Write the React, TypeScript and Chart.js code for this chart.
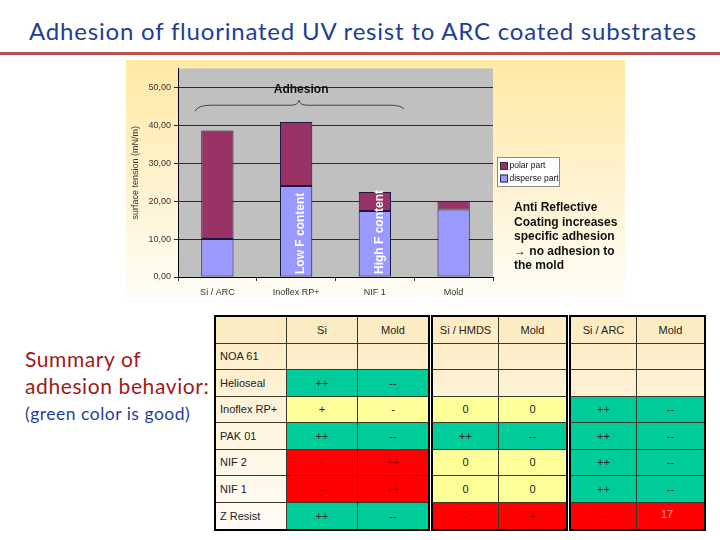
import React, { useEffect, useRef } from 'react';
import { Chart, registerables } from 'chart.js';

Chart.register(...registerables);

// ---- chart data ----
const categories = ['Si / ARC', 'Inoflex RP+', 'NIF 1', 'Mold'];
const dispersePart = [10.0, 24.0, 17.4, 17.8];
const polarPart = [28.6, 16.9, 5.0, 2.3];
const yTickValues = [0, 10, 20, 30, 40, 50];
const barNotes = ['', 'Low F content', 'High F content', ''];
const sideNote = ['Anti Reflective', 'Coating increases', 'specific adhesion', '\u2192 no adhesion to', 'the mold'];

// ---- table data ----
const tableGroups = [['Si', 'Mold'], ['Si / HMDS', 'Mold'], ['Si / ARC', 'Mold']];
const materials = ['NOA 61', 'Helioseal', 'Inoflex RP+', 'PAK 01', 'NIF 2', 'NIF 1', 'Z Resist'];
const ratings = [
  ['', '', '', '', '', ''],
  ['++', '--', '', '', '', ''],
  ['+', '-', '0', '0', '++', '--'],
  ['++', '--', '++', '--', '++', '--'],
  ['--', '++', '0', '0', '++', '--'],
  ['--', '++', '0', '0', '++', '--'],
  ['++', '--', '-', '+', '--', ''],
];
const ratingColors = [
  ['', '', '', '', '', ''],
  ['g', 'g', '', '', '', ''],
  ['y', 'y', 'y', 'y', 'g', 'g'],
  ['g', 'g', 'g', 'g', 'g', 'g'],
  ['r', 'r', 'y', 'y', 'g', 'g'],
  ['r', 'r', 'y', 'y', 'g', 'g'],
  ['g', 'g', 'r', 'r', 'r', 'r'],
];

const FONT = "'Liberation Sans', Arial, sans-serif";
const SLIDE_FONT = "Lato, 'Open Sans', sans-serif";
const fillOf: Record<string, string> = { g: '#00CC99', y: '#FFFF99', r: '#FF0000', '': 'transparent' };

function ChartPanel() {
  const ref = useRef<HTMLCanvasElement>(null);
  useEffect(() => {
    const canvas = ref.current!;
    const deco = {
      id: 'deco',
      beforeDraw(chart: any) {
        const { ctx, width, height, chartArea: a } = chart;
        ctx.save();
        const g = ctx.createLinearGradient(0, 0, 0, height);
        g.addColorStop(0, '#FFE9A3');
        g.addColorStop(0.55, '#FFF3D2');
        g.addColorStop(1, '#FFFDF7');
        ctx.fillStyle = g;
        ctx.fillRect(0, 0, width, height);
        ctx.fillStyle = '#C0C0C0';
        ctx.fillRect(a.left, a.top, a.right - a.left, a.bottom - a.top);
        ctx.restore();
      },
      afterDatasetsDraw(chart: any) {
        const { ctx, chartArea: a } = chart;
        const ys = chart.scales.y;
        const xs = chart.scales.x;
        const meta = chart.getDatasetMeta(0);
        const y0 = ys.getPixelForValue(0);
        ctx.save();
        // rotated notes inside bars
        barNotes.forEach((t, i) => {
          if (!t) return;
          const bar = meta.data[i];
          ctx.save();
          ctx.translate(bar.x + 5, y0 - 3);
          ctx.rotate(-Math.PI / 2);
          ctx.font = `bold 12px ${FONT}`;
          ctx.fillStyle = '#FFFFFF';
          ctx.textAlign = 'left';
          ctx.textBaseline = 'middle';
          ctx.fillText(t, 0, 0);
          ctx.restore();
        });
        // "Adhesion" label and brace
        ctx.font = `bold 12px ${FONT}`;
        ctx.fillStyle = '#111';
        ctx.textAlign = 'center';
        ctx.textBaseline = 'middle';
        const cx = xs.getPixelForValue(1) + 5;
        ctx.fillText('Adhesion', cx, ys.getPixelForValue(49.3));
        const L = a.left;
        const yb = ys.getPixelForValue(45.3);
        ctx.strokeStyle = '#444';
        ctx.lineWidth = 1;
        ctx.beginPath();
        ctx.moveTo(L + 17, yb + 6);
        ctx.quadraticCurveTo(L + 20, yb, L + 33, yb);
        ctx.lineTo(L + 113, yb);
        ctx.quadraticCurveTo(L + 120, yb, L + 121, yb - 5);
        ctx.quadraticCurveTo(L + 122, yb, L + 129, yb);
        ctx.lineTo(L + 213, yb);
        ctx.quadraticCurveTo(L + 223, yb, L + 226, yb + 4);
        ctx.stroke();
        ctx.restore();
      },
      afterDraw(chart: any) {
        const { ctx, chartArea: a } = chart;
        ctx.save();
        // legend box
        const lx = a.right + 4;
        const ly = 97;
        ctx.fillStyle = '#FFFFFF';
        ctx.fillRect(lx, ly, 62, 29);
        ctx.strokeStyle = '#8a8a8a';
        ctx.lineWidth = 1;
        ctx.strokeRect(lx + 0.5, ly + 0.5, 62, 29);
        const entries = [chart.data.datasets[1], chart.data.datasets[0]];
        ctx.font = `8.5px ${FONT}`;
        ctx.textAlign = 'left';
        ctx.textBaseline = 'middle';
        entries.forEach((ds: any, i: number) => {
          const ey = ly + 9 + i * 12.5;
          ctx.fillStyle = ds.backgroundColor;
          ctx.fillRect(lx + 3, ey - 4, 8, 8);
          ctx.strokeStyle = '#333';
          ctx.strokeRect(lx + 3.5, ey - 3.5, 7, 7);
          ctx.fillStyle = '#111';
          ctx.fillText(ds.label, lx + 12.5, ey);
        });
        // side note
        ctx.font = `bold 12px ${FONT}`;
        ctx.fillStyle = '#111';
        sideNote.forEach((t, i) => ctx.fillText(t, a.right + 21, 148 + i * 14.5));
        ctx.restore();
      },
    };

    const chart = new Chart(canvas, {
      type: 'bar',
      data: {
        labels: categories,
        datasets: [
          {
            label: 'disperse part',
            data: dispersePart,
            backgroundColor: '#9999FF',
            borderColor: '#1a1a40',
            borderWidth: 1,
            borderSkipped: false,
            barPercentage: 0.41,
            categoryPercentage: 1,
          },
          {
            label: 'polar part',
            data: polarPart,
            backgroundColor: '#993366',
            borderColor: '#1a1a40',
            borderWidth: 1,
            borderSkipped: false,
            barPercentage: 0.41,
            categoryPercentage: 1,
          },
        ],
      },
      options: {
        responsive: false,
        animation: false,
        events: [],
        layout: { padding: { left: 0, top: 6, right: 132, bottom: 0 } },
        plugins: { legend: { display: false }, tooltip: { enabled: false } },
        scales: {
          x: {
            stacked: true,
            afterFit: (s: any) => { s.height = 21; },
            grid: { display: true, drawOnChartArea: false, drawTicks: true, tickLength: 4, color: '#333', offset: true },
            border: { display: true, color: '#000' },
            ticks: { color: '#333', font: { family: FONT, size: 9 }, padding: 6, maxRotation: 0 },
          },
          y: {
            stacked: true,
            min: 0,
            max: 55,
            afterFit: (s: any) => { s.width = 52; },
            afterBuildTicks: (s: any) => { s.ticks = yTickValues.map((v) => ({ value: v })); },
            grid: { color: '#2a2a2a', tickLength: 4, drawTicks: true },
            border: { display: true, color: '#000' },
            ticks: {
              color: '#333',
              padding: 3,
              font: { family: FONT, size: 9 },
              callback: (v: any) => Number(v).toFixed(2).replace('.', ','),
            },
            title: { display: true, text: 'surface tension (mN/m)', color: '#333', font: { family: FONT, size: 9 }, padding: { top: 4, bottom: 0 } },
          },
        },
      },
      plugins: [deco],
    } as any);
    return () => chart.destroy();
  }, []);
  return (
    <canvas
      ref={ref}
      width={499}
      height={238}
      style={{ position: 'absolute', left: 126, top: 60, width: 499, height: 238 }}
    />
  );
}

function TableBlock({ group, left, colWidths, withLabels }: any) {
  const rowH = 26.5;
  const nRows = materials.length + 1;
  const cells: any[] = [];
  const colStarts: number[] = [];
  let acc = 0;
  colWidths.forEach((w: number) => { colStarts.push(acc); acc += w; });
  const nCols = colWidths.length;
  for (let r = 0; r < nRows; r++) {
    for (let c = 0; c < nCols; c++) {
      let text = '';
      let bg = 'transparent';
      let color = '#222';
      let align: any = 'center';
      const isLabel = withLabels && c === 0;
      const dc = withLabels ? c - 1 : c;
      if (r === 0) {
        text = isLabel ? '' : tableGroups[group][dc];
      } else if (isLabel) {
        text = materials[r - 1];
        align = 'left';
      } else {
        const k = group * 2 + dc;
        text = ratings[r - 1][k];
        const code = ratingColors[r - 1][k];
        bg = fillOf[code];
        if (code === 'r') color = '#A80000';
      }
      cells.push(
        <div
          key={`${r}-${c}`}
          style={{
            position: 'absolute',
            left: colStarts[c],
            top: r * rowH,
            width: colWidths[c],
            height: rowH,
            boxSizing: 'border-box',
            background: bg,
            borderRight: c < nCols - 1 ? '1px solid #3a3a2a' : 'none',
            borderBottom: r < nRows - 1 ? '1px solid #3a3a2a' : 'none',
            display: 'flex',
            alignItems: 'center',
            justifyContent: align === 'left' ? 'flex-start' : 'center',
            paddingLeft: align === 'left' ? 4 : 0,
            font: `11px ${FONT}`,
            color,
          }}
        >
          {text}
        </div>
      );
    }
  }
  return (
    <div
      style={{
        position: 'absolute',
        left,
        top: 315,
        width: acc,
        height: rowH * nRows,
        border: '2px solid #000',
        background: 'linear-gradient(180deg, #FCEBBF 0%, #FEF3DC 45%, #FFFCF6 100%)',
      }}
    >
      {cells}
    </div>
  );
}

export default function App() {
  return (
    <div style={{ position: 'absolute', left: 0, top: 0, width: 720, height: 540, background: '#fff', overflow: 'hidden' }}>
      <div
        style={{
          position: 'absolute', left: 0, top: 16, width: 726, textAlign: 'center',
          font: `24px ${SLIDE_FONT}`, letterSpacing: '0.8px', color: '#1E3D9A', whiteSpace: 'nowrap',
        }}
      >
        Adhesion of fluorinated UV resist to ARC coated substrates
      </div>
      <div style={{ position: 'absolute', left: 0, top: 52, width: 720, height: 3, background: '#B5524F' }} />
      <ChartPanel />
      <div style={{ position: 'absolute', left: 25, top: 346, font: `21px ${SLIDE_FONT}`, letterSpacing: '0.6px', lineHeight: '26.5px', color: '#9E1A1A', whiteSpace: 'nowrap' }}>
        Summary of<br />adhesion behavior:
      </div>
      <div style={{ position: 'absolute', left: 25, top: 403, font: `17.5px ${SLIDE_FONT}`, letterSpacing: '0.5px', color: '#1F3FA0', whiteSpace: 'nowrap' }}>
        (green color is good)
      </div>
      <TableBlock group={0} left={214} colWidths={[71, 71, 70]} withLabels />
      <TableBlock group={1} left={431} colWidths={[66, 67]} />
      <TableBlock group={2} left={569} colWidths={[66, 67]} />
      <div style={{ position: 'absolute', left: 661, top: 508, font: `11px ${FONT}`, color: '#F2A3A3' }}>17</div>
    </div>
  );
}
